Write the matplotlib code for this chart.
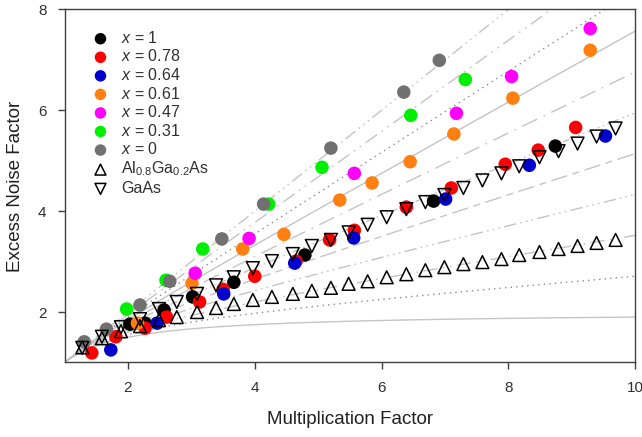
import numpy as np
import matplotlib
matplotlib.use("Agg")
import matplotlib.pyplot as plt

plt.rcParams['font.family'] = ['Liberation Sans', 'DejaVu Sans']
plt.rcParams['mathtext.fontset'] = 'custom'
plt.rcParams['mathtext.rm'] = 'Liberation Sans'
plt.rcParams['mathtext.it'] = 'Liberation Sans:italic'

# McIntyre k values for the background curves
k_values = [0.0, 0.1, 0.2, 0.3, 0.4, 0.5, 0.6, 0.7, 0.8, 0.9, 1.0]

# measured data, (multiplication, excess noise)
m_x1 = [2.03, 2.27, 2.57, 3.02, 3.67, 4.79, 6.82, 8.74]
f_x1 = [1.76, 1.78, 2.04, 2.30, 2.59, 3.13, 4.20, 5.29]

m_x078 = [1.43, 1.81, 2.27, 2.61, 3.13, 3.50, 4.00, 4.65, 5.18, 5.57, 6.39, 7.10, 7.95, 8.47, 9.06]
f_x078 = [1.19, 1.51, 1.68, 1.90, 2.20, 2.45, 2.71, 3.01, 3.43, 3.62, 4.08, 4.46, 4.93, 5.21, 5.66]

m_x064 = [1.73, 2.46, 3.51, 4.63, 5.56, 7.01, 8.33, 9.53]
f_x064 = [1.25, 1.78, 2.36, 2.97, 3.47, 4.24, 4.91, 5.49]

m_x061 = [2.15, 3.01, 3.81, 4.46, 5.34, 5.85, 6.45, 7.14, 8.07, 9.29]
f_x061 = [1.78, 2.57, 3.25, 3.54, 4.22, 4.56, 4.98, 5.53, 6.24, 7.19]

m_x047 = [3.06, 3.91, 5.57, 7.18, 8.05, 9.29]
f_x047 = [2.77, 3.46, 4.75, 5.94, 6.67, 7.62]

m_x031 = [1.98, 2.60, 3.18, 4.22, 5.06, 6.46, 7.32]
f_x031 = [2.06, 2.63, 3.25, 4.14, 4.87, 5.90, 6.61]

m_x0 = [1.31, 1.66, 2.19, 2.66, 3.48, 4.14, 5.20, 6.35, 6.91]
f_x0 = [1.41, 1.66, 2.14, 2.61, 3.45, 4.14, 5.25, 6.36, 6.99]

m_tri = [1.28, 1.59, 1.89, 2.19, 2.49, 2.77, 3.09, 3.39, 3.67, 3.97, 4.27, 4.60, 4.90, 5.20, 5.48,
         5.78, 6.08, 6.39, 6.69, 6.99, 7.29, 7.59, 7.89, 8.17, 8.49, 8.79, 9.09, 9.39, 9.69]
f_algaas = [1.30, 1.48, 1.62, 1.72, 1.84, 1.90, 2.00, 2.08, 2.16, 2.24, 2.30, 2.36, 2.42, 2.48, 2.56,
            2.61, 2.69, 2.75, 2.83, 2.89, 2.95, 2.99, 3.05, 3.13, 3.19, 3.25, 3.31, 3.37, 3.43]
f_gaas = [1.29, 1.51, 1.70, 1.86, 2.06, 2.20, 2.36, 2.53, 2.69, 2.87, 3.01, 3.15, 3.31, 3.43, 3.58,
          3.73, 3.88, 4.04, 4.18, 4.32, 4.46, 4.61, 4.75, 4.89, 5.07, 5.19, 5.34, 5.48, 5.64]

styles = ['-', (0, (1, 3)), (0, (10, 4, 1.2, 4, 1.2, 4)), (0, (1.2, 3, 1.2, 3, 1.2, 3, 9, 3)),
          (0, (12, 4, 5, 4)), (0, (1.2, 2.5, 1.2, 2.5, 1.2, 2.5, 5, 3)), (0, (12, 5, 1.2, 5))]

fig = plt.figure(figsize=(6.42, 4.37), dpi=100)
ax = fig.add_axes([0.1005, 0.1705, 0.889, 0.808])

M = np.linspace(1, 10, 300)
for i, k in enumerate(k_values):
    F = k * M + (1 - k) * (2 - 1 / M)
    ls = styles[i % len(styles)]
    col = '#8a8a8a' if ls == (0, (1, 3)) else '#c4c4c4'
    ax.plot(M, F, color=col, lw=1.0, ls=ls, zorder=1)

ms = 95
series = [(m_x1, f_x1, 'black', '$x$ = 1'),
          (m_x078, f_x078, '#ff0000', '$x$ = 0.78'),
          (m_x064, f_x064, '#0000cc', '$x$ = 0.64'),
          (m_x061, f_x061, '#ff8010', '$x$ = 0.61'),
          (m_x047, f_x047, '#ff00ff', '$x$ = 0.47'),
          (m_x031, f_x031, '#00ee00', '$x$ = 0.31'),
          (m_x0, f_x0, '#707070', '$x$ = 0')]
for m, f, c, lab in series:
    ax.scatter(m, f, s=ms, color=c, edgecolors='none', label=lab, zorder=3)

ax.scatter(m_tri, f_algaas, s=85, marker='^', facecolors='none', edgecolors='black',
           linewidths=1.1, label='Al$_{0.8}$Ga$_{0.2}$As', zorder=4)
ax.scatter(m_tri, f_gaas, s=85, marker='v', facecolors='none', edgecolors='black',
           linewidths=1.1, label='GaAs', zorder=4)

ax.set_xlim(1, 10)
ax.set_ylim(1, 8)
ax.set_xticks([2, 4, 6, 8, 10])
ax.set_yticks([2, 4, 6, 8])
for s in ax.spines.values():
    s.set_color('#404040')
    s.set_linewidth(1.0)
ax.tick_params(direction='out', length=5, width=1, color='#404040',
               labelsize=11, labelcolor='#303030', pad=8)
ax.set_xlabel('Multiplication Factor', fontsize=13.5, color='#202020', labelpad=12)
ax.set_ylabel('Excess Noise Factor', fontsize=13.5, color='#202020', labelpad=10)

leg = ax.legend(loc='upper left', bbox_to_anchor=(0.035, 0.96), frameon=False,
                fontsize=11.5, handletextpad=0.7, labelspacing=0.16, borderaxespad=0,
                handlelength=1.2, markerscale=0.85)
for t in leg.get_texts():
    t.set_color('#303030')

fig.savefig('out.png', dpi=100)
